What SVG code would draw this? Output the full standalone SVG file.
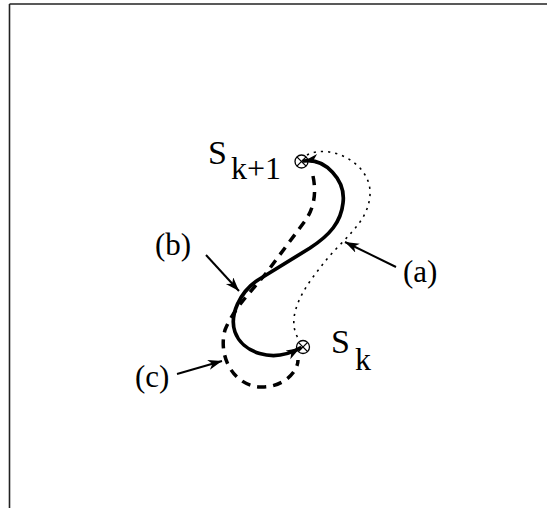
<svg xmlns="http://www.w3.org/2000/svg" width="547" height="508" viewBox="0 0 547 508">
<defs>
<style>
.t{font-family:"Liberation Serif","Times New Roman",serif;fill:#000}
.lbl{font-size:31px}
.frame{stroke:#222;stroke-width:1.6;fill:none}
.solid{fill:none;stroke:#000;stroke-width:3.7;stroke-linecap:round}
.dash{fill:none;stroke:#000;stroke-width:3.5;stroke-dasharray:9 7}
.dot{fill:none;stroke:#000;stroke-width:1.6;stroke-dasharray:2.2 5}
.lead{fill:none;stroke:#000;stroke-width:2}
.node circle,.node line{fill:none;stroke:#000;stroke-width:1.3}
</style>
<marker id="ah" markerUnits="userSpaceOnUse" markerWidth="16" markerHeight="12" refX="14" refY="5" orient="auto-start-reverse">
<path d="M0,0 L14,5 L0,10 L4,5 z" fill="#000"/>
</marker>
</defs>
<g id="frame">
<line class="frame" x1="9.5" y1="4" x2="547" y2="4"/>
<line class="frame" x1="9.5" y1="4" x2="9.5" y2="508"/>
</g>
<g id="node-sk1" class="node">
<circle cx="301.5" cy="161.5" r="6.5"/>
<line x1="296.9" y1="156.9" x2="306.1" y2="166.1"/>
<line x1="306.1" y1="156.9" x2="296.9" y2="166.1"/>
<text class="t" x="208" y="164" font-size="34">S</text>
<text class="t" x="231" y="179" font-size="32">k+1</text>
</g>
<g id="node-sk" class="node">
<circle cx="303" cy="347" r="6.5"/>
<line x1="298.4" y1="342.4" x2="307.6" y2="351.6"/>
<line x1="307.6" y1="342.4" x2="298.4" y2="351.6"/>
<text class="t" x="331" y="353" font-size="34">S</text>
<text class="t" x="355" y="370" font-size="32">k</text>
</g>
<g id="connectors">
<path id="curve-a" class="dot" d="M307,155 C330,143 372,163 370,195 C368,225 340,240 320,268 C302,290 284,320 300,341"/>
<path id="curve-b" class="solid" d="M304,161 C325,158 346,180 343,203 C341,222 330,235 310,248 L258,280 C240,292 229,315 235,332 C242,352 272,364 300,348" marker-start="url(#ah)" marker-end="url(#ah)"/>
<path id="curve-c" class="dash" d="M313,176 C317,195 313,210 305,221 L270,268 C258,285 235,305 225,330 C218,355 232,385 260,387 C283,388 298,372 298,360"/>
<line class="lead" x1="396" y1="267" x2="345" y2="242" marker-end="url(#ah)"/>
<line class="lead" x1="206" y1="255" x2="239" y2="291" marker-end="url(#ah)"/>
<line class="lead" x1="177" y1="374" x2="222" y2="361" marker-end="url(#ah)"/>
</g>
<g id="labels">
<text class="t lbl" x="403" y="282">(a)</text>
<text class="t lbl" x="155" y="255">(b)</text>
<text class="t lbl" x="135" y="387">(c)</text>
</g>
</svg>
